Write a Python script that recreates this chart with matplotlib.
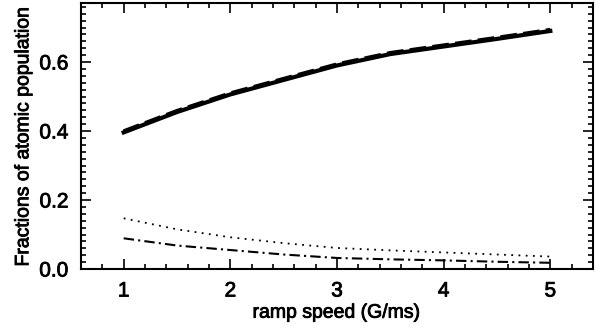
import matplotlib.pyplot as plt
import matplotlib.patheffects as pe
from matplotlib.ticker import MultipleLocator

# ramp speed (G/ms)
ramp = [1.0, 1.5, 2.0, 2.5, 3.0, 3.5, 4.0, 4.5, 5.0]

# fracciones de poblacion
frac_solid = [0.396, 0.455, 0.506, 0.548, 0.590, 0.623, 0.645, 0.667, 0.690]
frac_dashed = [0.399, 0.458, 0.509, 0.551, 0.593, 0.626, 0.648, 0.670, 0.693]
frac_dotted = [0.147, 0.115, 0.092, 0.075, 0.061, 0.054, 0.048, 0.042, 0.036]
frac_dashdot = [0.089, 0.068, 0.055, 0.042, 0.032, 0.028, 0.025, 0.021, 0.018]

plt.rcParams['font.family'] = ['Liberation Sans', 'DejaVu Sans']

fig = plt.figure(figsize=(6.02, 3.35), dpi=100)
ax = fig.add_axes([0.1346, 0.197, 0.985 - 0.1346, 0.991 - 0.197])

ax.plot(ramp, frac_solid, color='black', lw=3, ls='-')
ax.plot(ramp, frac_dashed, color='black', lw=3, ls=(0, (4, 1.5)))
ax.plot(ramp, frac_dotted, color='black', lw=1.3, ls=(0, (1, 3)))
ax.plot(ramp, frac_dashdot, color='black', lw=1.5, ls=(0, (5, 2, 1, 2)))

ax.set_xlim(0.6, 5.4)
ax.set_ylim(0, 0.771)
ax.xaxis.set_major_locator(MultipleLocator(1))
ax.xaxis.set_minor_locator(MultipleLocator(0.2))
ax.yaxis.set_major_locator(MultipleLocator(0.2))
ax.yaxis.set_minor_locator(MultipleLocator(0.02))
ax.yaxis.set_major_formatter(plt.FormatStrFormatter('%.1f'))

ax.tick_params(which='both', direction='in', top=True, right=True, width=1.2)
ax.tick_params(which='major', length=7, labelsize=15, pad=9)
ax.tick_params(which='minor', length=3.5)
for s in ax.spines.values():
    s.set_linewidth(1.5)

ax.set_xlabel('ramp speed (G/ms)', fontsize=14, labelpad=3)
ax.set_ylabel('Fractions of atomic population', fontsize=14, labelpad=5)

# texto un poco mas grueso, como en la figura original
grueso = [pe.withStroke(linewidth=0.6, foreground='black')]
for t in ax.get_xticklabels() + ax.get_yticklabels():
    t.set_path_effects(grueso)
ax.xaxis.label.set_path_effects(grueso)
ax.yaxis.label.set_path_effects(grueso)

plt.savefig('out.png', dpi=100)
